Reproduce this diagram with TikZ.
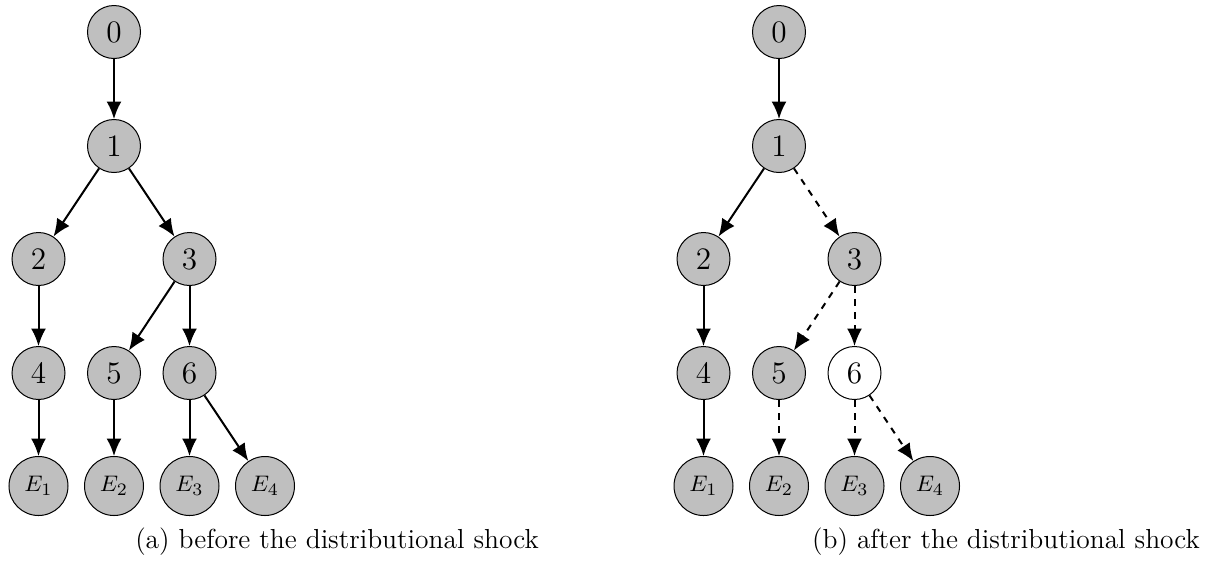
\documentclass[tikz,border=0pt]{standalone}
\usetikzlibrary{arrows.meta}
\tikzset{
  st/.style={circle,draw=black,line width=0.4pt,fill=black!25,minimum size=21.2pt,inner sep=0pt,font=\fontsize{12.5}{14}\selectfont},
  est/.style={st,minimum size=23.6pt,font=\fontsize{9.5}{11}\selectfont},
  wst/.style={st,fill=white},
  ar/.style={-{Latex[length=7pt,width=6pt]},line width=0.8pt},
  dar/.style={ar,dash pattern=on 2.6pt off 2.6pt},
  captext/.style={font=\fontsize{11}{13}\selectfont}
}
\begin{document}
\begin{tikzpicture}[x=0.4pt,y=-0.4pt]
\useasboundingbox (0,0) rectangle (1219,561);
% panel (a)
\node[st] (a0) at (114,32) {0};
\node[st] (a1) at (114,146) {1};
\node[st] (a2) at (38.5,259) {2};
\node[st] (a3) at (189.5,259) {3};
\node[st] (a4) at (38.5,373) {4};
\node[st] (a5) at (114,373) {5};
\node[st] (a6) at (189.5,373) {6};
\node[est] (ae1) at (38.5,486) {$E_1$};
\node[est] (ae2) at (114,486) {$E_2$};
\node[est] (ae3) at (189.5,486) {$E_3$};
\node[est] (ae4) at (265,486) {$E_4$};
\draw[ar] (a0) -- (a1);
\draw[ar] (a1) -- (a2);
\draw[ar] (a1) -- (a3);
\draw[ar] (a2) -- (a4);
\draw[ar] (a3) -- (a5);
\draw[ar] (a3) -- (a6);
\draw[ar] (a4) -- (ae1);
\draw[ar] (a5) -- (ae2);
\draw[ar] (a6) -- (ae3);
\draw[ar] (a6) -- (ae4);
\node[captext] (capa) at (337,542) {(a) before the distributional shock};
% panel (b)
\begin{scope}[xshift=665*0.4pt]
\node[st] (b0) at (114,32) {0};
\node[st] (b1) at (114,146) {1};
\node[st] (b2) at (38.5,259) {2};
\node[st] (b3) at (189.5,259) {3};
\node[st] (b4) at (38.5,373) {4};
\node[st] (b5) at (114,373) {5};
\node[wst] (b6) at (189.5,373) {6};
\node[est] (be1) at (38.5,486) {$E_1$};
\node[est] (be2) at (114,486) {$E_2$};
\node[est] (be3) at (189.5,486) {$E_3$};
\node[est] (be4) at (265,486) {$E_4$};
\draw[ar] (b0) -- (b1);
\draw[ar] (b1) -- (b2);
\draw[dar] (b1) -- (b3);
\draw[ar] (b2) -- (b4);
\draw[dar] (b3) -- (b5);
\draw[dar] (b3) -- (b6);
\draw[ar] (b4) -- (be1);
\draw[dar] (b5) -- (be2);
\draw[dar] (b6) -- (be3);
\draw[dar] (b6) -- (be4);
\end{scope}
\node[captext] (capb) at (1006,542) {(b) after the distributional shock};
\end{tikzpicture}
\end{document}
